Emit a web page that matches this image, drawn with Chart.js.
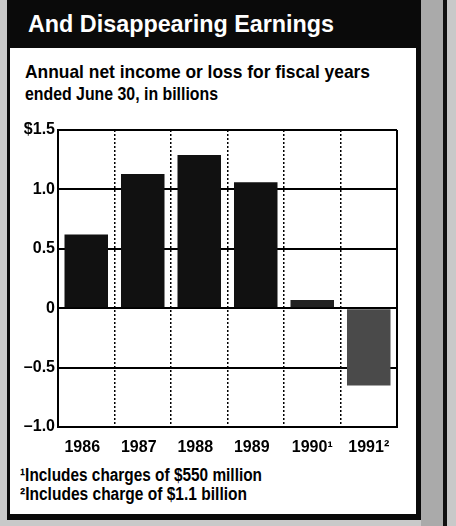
<!DOCTYPE html>
<html>
<head>
<meta charset="utf-8">
<script src="https://cdn.jsdelivr.net/npm/chart.js@4.4.0/dist/chart.umd.min.js"></script>
<style>
  body { margin: 0; width: 456px; height: 526px; background: #c9c9c9; position: relative; overflow: hidden;
         font-family: "Liberation Sans", Arial, sans-serif; }
  #shadow { position: absolute; left: 421px; top: 0; width: 22px; height: 526px; background: #aaa; }
  #shadowLine { position: absolute; left: 443px; top: 0; width: 4px; height: 526px; background: #111; }
  #frame { position: absolute; left: 7px; top: 0; width: 414px; height: 520px; background: #0a0a0a; }
  #inner { position: absolute; left: 10px; top: 48px; width: 406px; height: 466px; background: #fff; }
  .txt { position: absolute; white-space: nowrap; font-weight: bold; transform-origin: left top; color: #000; }
  #title { left: 28px; top: 11px; color: #fff; font-size: 23px; }
  #sub1 { left: 25px; top: 61px; font-size: 18.5px; }
  #sub2 { left: 25px; top: 83px; font-size: 18.5px; }
  #note1 { left: 20px; top: 465px; font-size: 18px; }
  #note2 { left: 20px; top: 484px; font-size: 18px; }
  #wrap { position: absolute; left: 10px; top: 110px; width: 406px; height: 348px; }
</style>
</head>
<body>
<div id="shadow"></div>
<div id="shadowLine"></div>
<div id="frame"></div>
<div id="inner"></div>
<div class="txt" id="title" data-w="306">And Disappearing Earnings</div>
<div class="txt" id="sub1" data-w="345">Annual net income or loss for fiscal years</div>
<div class="txt" id="sub2" data-w="193">ended June 30, in billions</div>
<div id="wrap"><canvas id="chart"></canvas></div>
<div class="txt" id="note1" data-w="242">¹Includes charges of $550 million</div>
<div class="txt" id="note2" data-w="227">²Includes charge of $1.1 billion</div>
<script>
// Data
const years = ['1986', '1987', '1988', '1989', '1990¹', '1991²'];
const netIncome = [0.62, 1.13, 1.29, 1.06, 0.07, -0.65];
const barColors = ['#111', '#111', '#111', '#111', '#222', '#4a4a4a'];
const yTickValues = [1.5, 1.0, 0.5, 0, -0.5, -1.0];
const yTickLabels = ['$1.5', '1.0', '0.5', '0', '–0.5', '–1.0'];

// squeeze the text lines to the condensed widths of the original
document.querySelectorAll('.txt').forEach(el => {
    const w = el.getBoundingClientRect().width;
    el.style.transform = 'scaleX(' + (el.dataset.w / w) + ')';
});

const fontFamily = '"Liberation Sans", Arial, sans-serif';

// edge grid lines solid, inner ones dotted
function isEdge(ctx) {
    return ctx.index === undefined || ctx.index === 0;
}

new Chart(document.getElementById('chart'), {
    type: 'bar',
    data: {
        labels: years,
        datasets: [{
            data: netIncome,
            backgroundColor: barColors,
            borderWidth: 0,
            barPercentage: 0.77,
            categoryPercentage: 1
        }]
    },
    options: {
        responsive: true,
        maintainAspectRatio: false,
        animation: false,
        layout: { padding: { top: 20, right: 19, left: 0, bottom: 0 } },
        plugins: { legend: { display: false }, tooltip: { enabled: false } },
        scales: {
            x: {
                grid: {
                    color: '#000',
                    drawTicks: false,
                    lineWidth: ctx => isEdge(ctx) ? 2 : 1.5
                },
                border: {
                    display: true,
                    color: '#000',
                    width: 2,
                    dash: ctx => isEdge(ctx) ? [] : [2, 2]
                },
                ticks: {
                    color: '#000',
                    font: { family: fontFamily, size: 16, weight: 'bold' },
                    padding: 11,
                    // plain years sit a little left of centre in the original
                    callback: function (value) {
                        const label = this.getLabelForValue(value);
                        return label.length === 4 ? label + '\u2002' : label;
                    }
                },
                afterFit: scale => { scale.height = 31; }
            },
            y: {
                min: -1,
                max: 1.5,
                afterBuildTicks: scale => { scale.ticks = yTickValues.map(v => ({ value: v })); },
                grid: { color: '#000', lineWidth: 2, drawTicks: false },
                border: { display: true, color: '#000', width: 2 },
                ticks: {
                    color: '#000',
                    font: { family: fontFamily, size: 16, weight: 'bold' },
                    padding: 3,
                    callback: value => yTickLabels[yTickValues.indexOf(value)]
                },
                afterFit: scale => { scale.width = 48; }
            }
        }
    }
});
</script>
</body>
</html>
